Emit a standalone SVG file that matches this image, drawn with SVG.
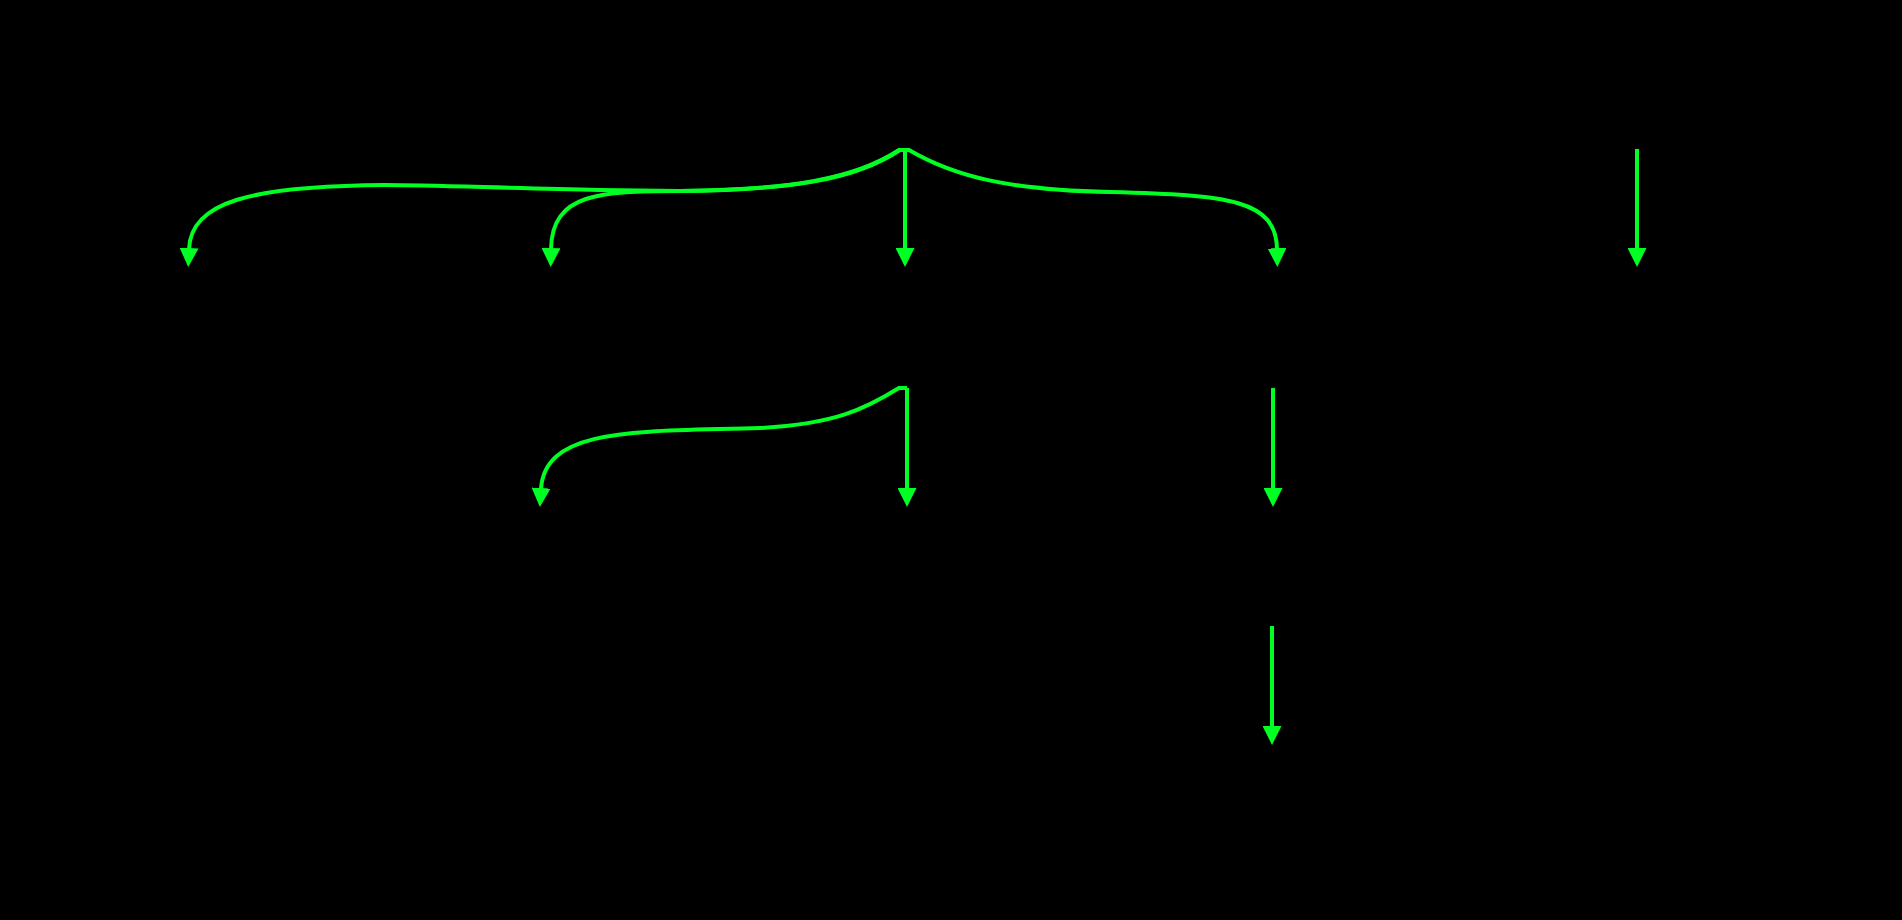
<svg xmlns="http://www.w3.org/2000/svg" width="1902" height="920" viewBox="0 0 1902 920">
  <style>
    .edge { fill: none; stroke: #00ff22; stroke-width: 4; }
    .head { fill: #00ff22; }
  </style>
  <defs>
    <marker id="arrow" viewBox="0 0 10 10" refX="0.5" refY="5" markerUnits="userSpaceOnUse" markerWidth="19" markerHeight="19" orient="auto">
      <path class="head" d="M0,0 L10,5 L0,10 z"/>
    </marker>
  </defs>
  <rect x="0" y="0" width="1902" height="920" fill="#000"/>
  <g id="connectors">
    <path id="e1" class="edge" marker-end="url(#arrow)" d="M905,150 L899,150 C855,179 790,190 680,191 L600,190 C500,188 430,185 385,185 C250,186 191,202 189,249"/>
    <path id="e2" class="edge" marker-end="url(#arrow)" d="M905,150 L900,150 C855,180 790,190 680,191 C600,191 552,193 551,249"/>
    <path id="e3" class="edge" marker-end="url(#arrow)" d="M905,150 L905,249"/>
    <path id="e4" class="edge" marker-end="url(#arrow)" d="M905,150 L909,150 C955,177 1010,190 1110,192 C1230,195 1276,200 1277,249"/>
    <path id="e5" class="edge" marker-end="url(#arrow)" d="M1637,149 L1637,249"/>
    <path id="e6" class="edge" marker-end="url(#arrow)" d="M907,388 L899,388 C865,409 835,424 760,428 C640,432 545,426 541,489"/>
    <path id="e7" class="edge" marker-end="url(#arrow)" d="M907,388 L907,489"/>
    <path id="e8" class="edge" marker-end="url(#arrow)" d="M1273,388 L1273,489"/>
    <path id="e9" class="edge" marker-end="url(#arrow)" d="M1272,626 L1272,727"/>
  </g>
</svg>
